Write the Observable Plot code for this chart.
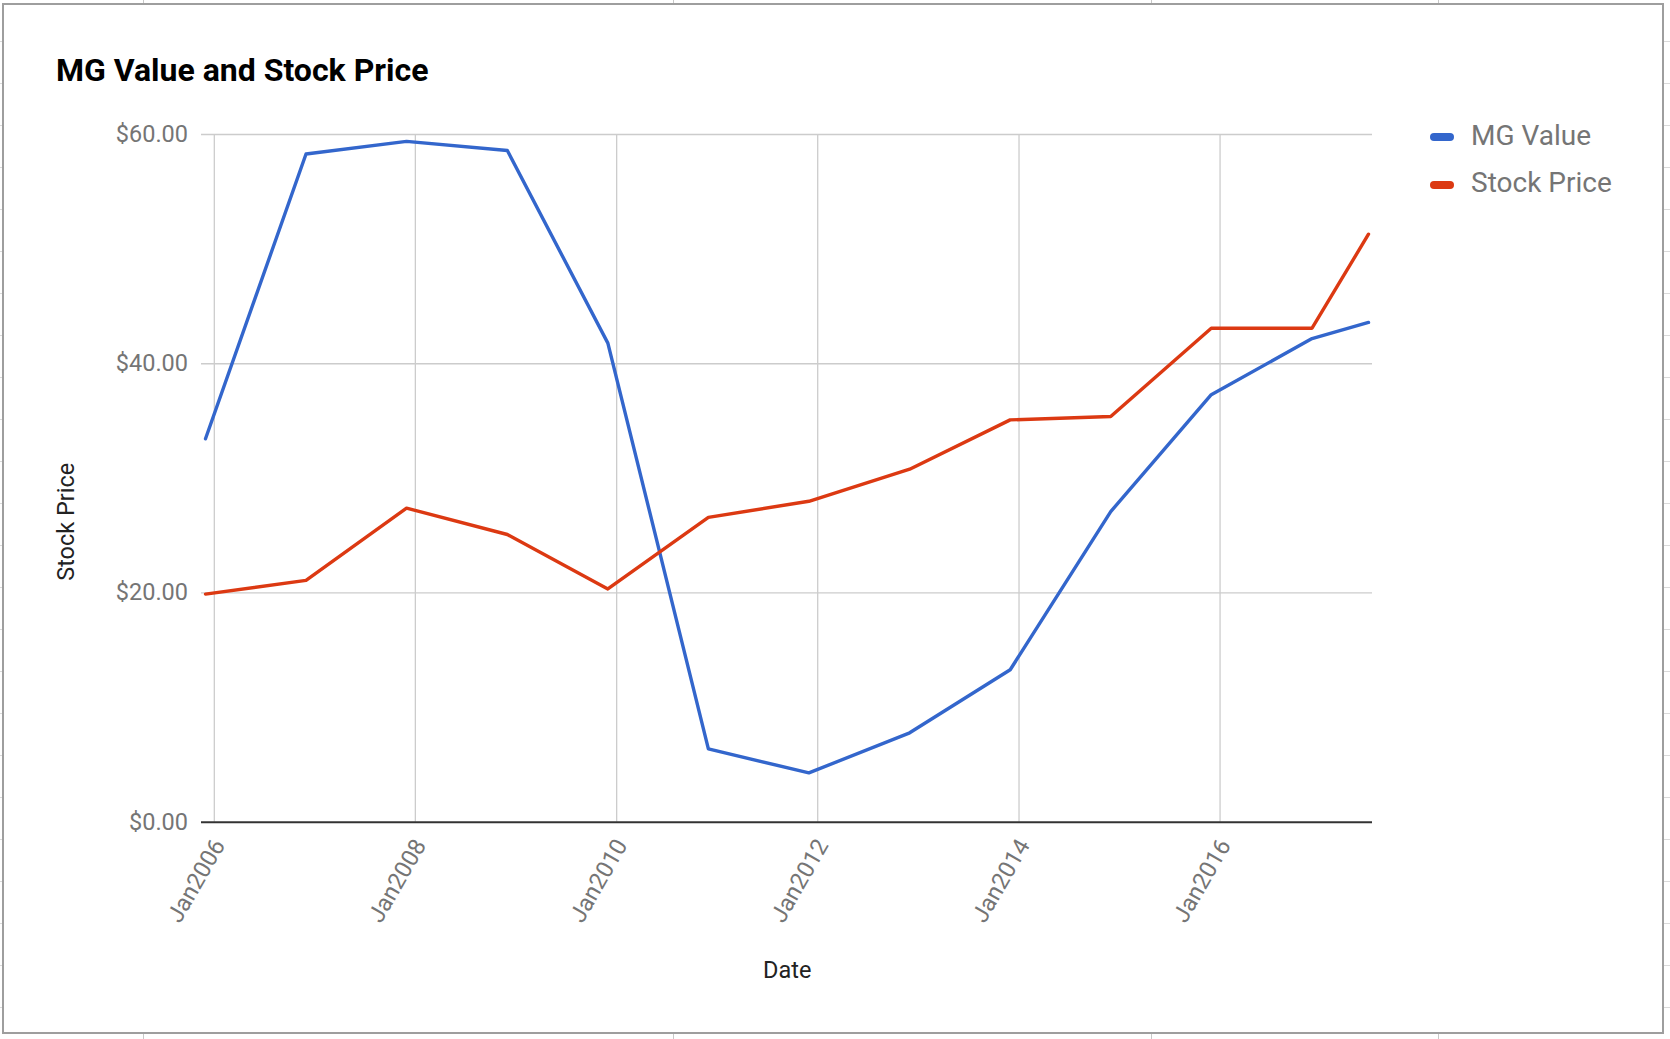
<!DOCTYPE html>
<html>
<head>
<meta charset="utf-8">
<script src="https://cdn.jsdelivr.net/npm/d3@7"></script>
<script src="https://cdn.jsdelivr.net/npm/@observablehq/plot@0.6"></script>
<style>
  html, body { margin: 0; padding: 0; background: #fff; }
  #wrap {
    position: relative; width: 1670px; height: 1039px; overflow: hidden;
    background-color: #fff;
    background-image: repeating-linear-gradient(to bottom, transparent 0px, transparent 41px, #dadada 41px, #dadada 42px);
  }
  .col { position: absolute; top: 0; width: 1px; height: 1039px; background: #c8c8c8; }
  #frame {
    position: absolute; left: 2px; top: 3px; width: 1662px; height: 1031px;
    box-sizing: border-box; border: 2px solid #9e9e9e; background: #fff;
  }
  #chart { position: absolute; left: 0; top: 0; }
  .txt { position: absolute; font-family: Roboto, sans-serif; white-space: nowrap; line-height: 1; }
  #title { left: 56px; top: 54px; font-size: 32px; font-weight: bold; color: #000; }
  .sw { position: absolute; width: 24px; height: 8px; border-radius: 4px; }
  .leg { font-size: 28px; color: #757575; }
  #xlabel { font-size: 23.5px; color: #222; }
  #ylabel { font-size: 23.5px; color: #222; transform: rotate(-90deg); transform-origin: center center; }
</style>
</head>
<body>
<div id="wrap">
  <div class="col" style="left:143px"></div>
  <div class="col" style="left:673px"></div>
  <div class="col" style="left:1151px"></div>
  <div class="col" style="left:1438px"></div>
  <div id="frame"></div>
  <div id="chart"></div>
  <div id="title" class="txt">MG Value and Stock Price</div>
  <div id="legend"></div>
  <div id="xlabel" class="txt">Date</div>
  <div id="ylabel" class="txt">Stock Price</div>
</div>
<script>
// ---- data ----
const dates = ["2005-11-30", "2006-11-30", "2007-11-30", "2008-11-30", "2009-11-30", "2010-11-30",
               "2011-11-30", "2012-11-30", "2013-11-30", "2014-11-30", "2015-11-30", "2016-11-30", "2017-06-23"];
const mgValue    = [33.45, 58.3, 59.4, 58.6, 41.8, 6.4, 4.3, 7.8, 13.3, 27.1, 37.3, 42.2, 43.6];
const stockPrice = [19.9, 21.1, 27.4, 25.1, 20.35, 26.6, 28.0, 30.8, 35.1, 35.4, 43.1, 43.1, 51.3];
const seriesNames = ["MG Value", "Stock Price"];
const seriesColors = ["#3366cc", "#dc3912"];
const xTickDates = ["2006-01-01", "2008-01-01", "2010-01-01", "2012-01-01", "2014-01-01", "2016-01-01"];
const yTickValues = [0, 20, 40, 60];
const yGridValues = [20, 40, 60];
const titleText = "MG Value and Stock Price";
const xLabel = "Date";
const yLabel = "Stock Price";

// ---- build table ----
const parse = d3.utcParse("%Y-%m-%d");
const rows = [];
dates.forEach((d, i) => {
  rows.push({date: parse(d), value: mgValue[i], series: seriesNames[0]});
  rows.push({date: parse(d), value: stockPrice[i], series: seriesNames[1]});
});
const xTicks = xTickDates.map(parse);

const W = 1670, H = 1039;
const mL = 201, mR = 298, mT = 134, mB = 217.3;

const chart = Plot.plot({
  width: W, height: H,
  marginLeft: mL, marginRight: mR, marginTop: mT, marginBottom: mB,
  insetLeft: 4, insetRight: 4,
  style: {background: "transparent", fontFamily: "Roboto, sans-serif", overflow: "visible"},
  x: {type: "utc", domain: [parse(dates[0]), parse(dates[dates.length - 1])]},
  y: {domain: [0, 60]},
  color: {domain: seriesNames, range: seriesColors},
  marks: [
    Plot.gridX(xTicks, {stroke: "#cccccc", strokeOpacity: 1, strokeWidth: 1.3}),
    Plot.gridY(yGridValues, {stroke: "#cccccc", strokeOpacity: 1, strokeWidth: 1.3}),
    Plot.line(rows, {x: "date", y: "value", z: "series", stroke: "series", strokeWidth: 3.4}),
    Plot.ruleY([0], {stroke: "#333333", strokeWidth: 2}),
    Plot.axisX(xTicks, {tickFormat: d => "Jan" + d.getUTCFullYear(), tickRotate: -60, tickSize: 0,
      tickPadding: 19, dx: 5, fill: "#757575", fontSize: 23.5, label: null}),
    Plot.axisY(yTickValues, {tickFormat: d3.format("$.2f"), tickSize: 0, tickPadding: 13.5,
      fill: "#757575", fontSize: 23.5, label: null})
  ]
});
document.getElementById("chart").appendChild(chart);

document.getElementById("title").textContent = titleText;
document.getElementById("xlabel").textContent = xLabel;
document.getElementById("ylabel").textContent = yLabel;

// legend
const legend = document.getElementById("legend");
const legTops = [122, 169];
const swTops = [132.5, 180.5];
seriesNames.forEach((name, i) => {
  const sw = document.createElement("div");
  sw.className = "sw";
  sw.style.left = "1430px"; sw.style.top = swTops[i] + "px";
  sw.style.background = seriesColors[i];
  legend.appendChild(sw);
  const t = document.createElement("div");
  t.className = "txt leg";
  t.style.left = "1471px"; t.style.top = legTops[i] + "px";
  t.textContent = name;
  legend.appendChild(t);
});

// position axis titles by their centres
function centerAt(el, cx, cy) {
  const w = el.offsetWidth, h = el.offsetHeight;
  el.style.left = (cx - w / 2) + "px";
  el.style.top = (cy - h / 2) + "px";
}
centerAt(document.getElementById("xlabel"), 787, 971);
centerAt(document.getElementById("ylabel"), 66.5, 522);
</script>
</body>
</html>
